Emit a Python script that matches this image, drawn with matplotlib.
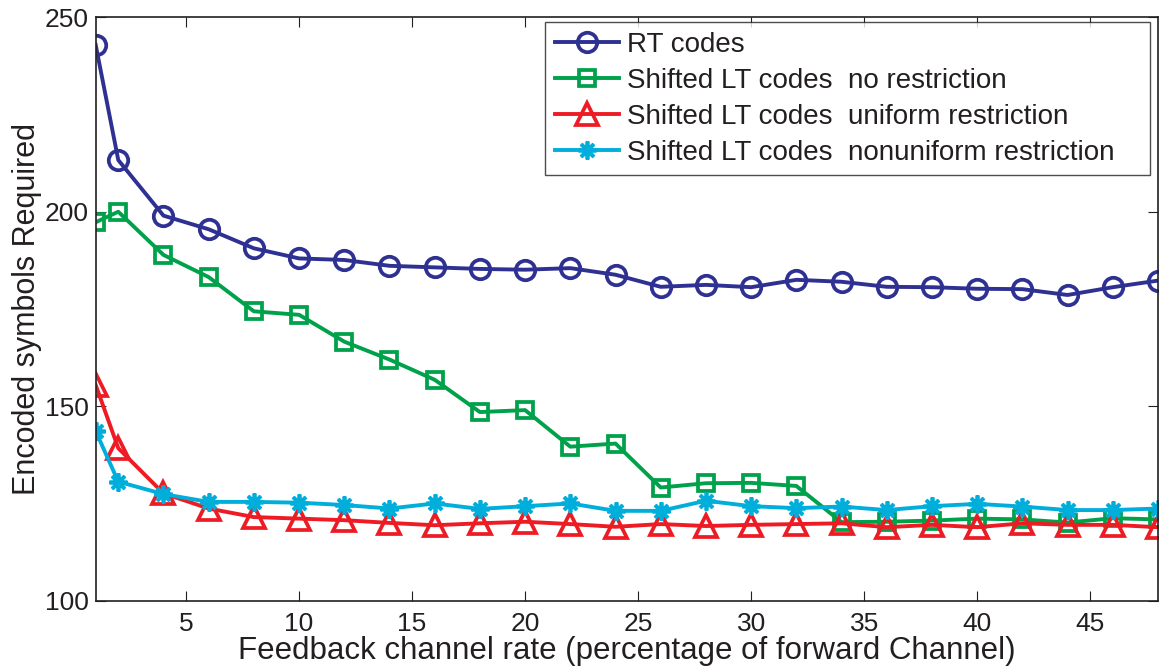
import matplotlib.pyplot as plt
import numpy as np

# feedback rate (% of forward channel)
rate = [1, 2, 4, 6, 8, 10, 12, 14, 16, 18, 20, 22, 24, 26, 28, 30,
        32, 34, 36, 38, 40, 42, 44, 46, 48]

rt_codes = [242.9, 213.3, 199.0, 195.5, 190.6, 188.0, 187.6, 186.1, 185.7, 185.3,
            185.1, 185.5, 183.8, 180.7, 181.2, 180.6, 182.5, 182.0, 180.7, 180.6,
            180.2, 180.1, 178.6, 180.6, 182.3]
lt_none = [197.3, 200.0, 188.9, 183.2, 174.4, 173.5, 166.6, 162.0, 156.8, 148.5,
           149.0, 139.6, 140.4, 129.1, 130.2, 130.3, 129.5, 120.2, 120.3, 120.6,
           121.1, 120.9, 120.1, 121.2, 120.9]
lt_uniform = [155.5, 139.2, 127.6, 123.7, 121.5, 121.1, 120.7, 120.0, 119.4, 119.9,
              120.3, 119.7, 119.0, 119.7, 119.2, 119.5, 119.7, 119.9, 118.9, 119.5,
              118.9, 119.9, 119.5, 119.5, 118.9]
lt_nonuniform = [143.6, 130.6, 127.4, 125.4, 125.4, 125.2, 124.6, 123.7, 125.0, 123.6,
                 124.3, 125.0, 123.1, 123.1, 125.7, 124.3, 123.8, 124.2, 123.3, 124.3,
                 124.9, 124.2, 123.3, 123.3, 123.7]

labels = ['RT codes',
          'Shifted LT codes  no restriction',
          'Shifted LT codes  uniform restriction',
          'Shifted LT codes  nonuniform restriction']

C_BLUE = '#2E3192'
C_GREEN = '#00A14B'
C_RED = '#ED1C24'
C_CYAN = '#00AEDB'

plt.rcParams.update({
    'font.family': 'Liberation Sans',
    'font.size': 19,
    'text.color': '#231F20',
    'axes.labelcolor': '#231F20',
    'xtick.color': '#231F20',
    'ytick.color': '#231F20',
    'axes.edgecolor': '#231F20',
})

fig = plt.figure(figsize=(11.61, 6.72), dpi=100)
ax = fig.add_axes([0.0824, 0.1061, 0.9150, 0.8682])

lw = 2.8
ax.plot(rate, rt_codes, '-o', color=C_BLUE, lw=lw, ms=14, mew=2.7,
        mfc='none', label=labels[0])
ax.plot(rate, lt_none, '-s', color=C_GREEN, lw=lw, ms=11, mew=2.7,
        mfc='none', label=labels[1])
ax.plot(rate, lt_uniform, '-^', color=C_RED, lw=lw, ms=16, mew=2.7,
        mfc='none', label=labels[2])
ax.plot(rate, lt_nonuniform, '-', color=C_CYAN, lw=lw, marker=(8, 2, 0),
        ms=13, mew=2.7, label=labels[3])

ax.set_xlim(1, 48)
ax.set_ylim(100, 250)
ax.set_xticks([5, 10, 15, 20, 25, 30, 35, 40, 45])
ax.set_yticks([100, 150, 200, 250])
ax.tick_params(direction='in', length=7.5, width=0.8, top=True, right=True)
ax.tick_params(axis='x', pad=8)
ax.tick_params(axis='y', pad=5)
for s in ax.spines.values():
    s.set_linewidth(1.2)

ax.set_xlabel('Feedback channel rate (percentage of forward Channel)',
              fontsize=22.5, labelpad=0)
ax.set_ylabel('Encoded symbols Required', fontsize=22, labelpad=2)

leg = ax.legend(loc='upper left', bbox_to_anchor=(0.423, 0.745, 0.5695, 0.247),
                mode='expand', fontsize=20,
                frameon=True, fancybox=False, edgecolor='#231F20',
                borderaxespad=0, handlelength=2.3, handletextpad=0.3,
                labelspacing=0.36, borderpad=0.35)
leg.get_frame().set_linewidth(1.0)

fig.savefig('out.png', dpi=100)
